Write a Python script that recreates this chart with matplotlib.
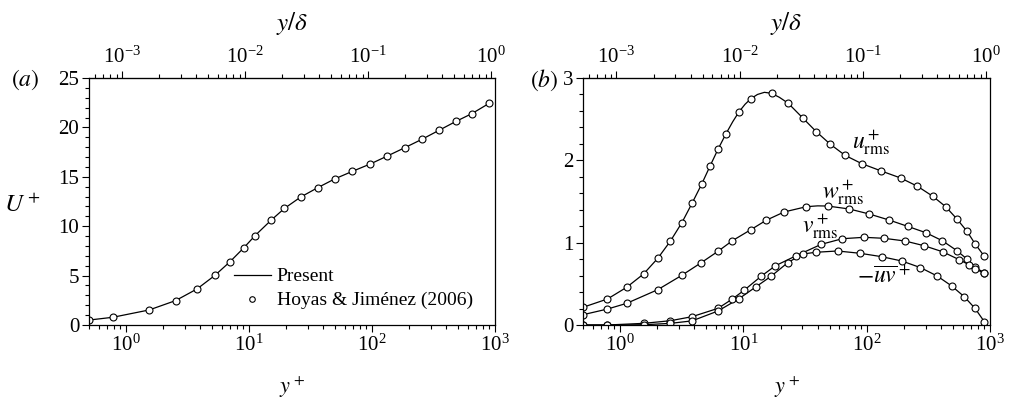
import matplotlib
matplotlib.use('Agg')
import matplotlib.pyplot as plt
from matplotlib.ticker import MultipleLocator

plt.rcParams['font.family'] = ['Liberation Serif', 'DejaVu Serif']
plt.rcParams['mathtext.fontset'] = 'stix'

RE_TAU = 934.0

# (a) mean velocity profile
hj_yp_U = [0.5, 0.78, 1.54, 2.53, 3.78, 5.29, 7.0, 9.05, 11.2, 15.1, 19.4, 26.3,
           36.2, 50, 69.2, 96.9, 133, 185, 255, 350, 480, 650, 900]
hj_U = [0.5, 0.78, 1.52, 2.47, 3.65, 5.03, 6.4, 7.8, 9.05, 10.6, 11.8, 12.95,
        13.9, 14.8, 15.55, 16.3, 17.1, 17.95, 18.8, 19.7, 20.6, 21.4, 22.45]
present_yp_U = [0.5, 0.78, 1.54, 2.53, 3.78, 5.29, 7.0, 9.05, 11.2, 15.1, 19.4, 26.3,
                36.2, 50, 69.2, 96.9, 133, 185, 255, 350, 480, 650, 900]
present_U = [0.5, 0.78, 1.52, 2.47, 3.65, 5.03, 6.4, 7.8, 9.05, 10.6, 11.8, 12.95,
             13.9, 14.8, 15.55, 16.3, 17.1, 17.95, 18.8, 19.7, 20.6, 21.4, 22.45]

# (b) rms fluctuations and Reynolds shear stress, reference DNS
hj_yp_u = [0.5, 0.79, 1.13, 1.55, 2.02, 2.56, 3.17, 3.83, 4.58, 5.36, 6.22, 7.18,
           9.22, 11.5, 16.9, 23.1, 30.5, 39, 50.7, 66.7, 91.1, 131, 188, 258,
           344, 437, 539, 651, 755, 900]
hj_u = [0.215, 0.316, 0.458, 0.62, 0.81, 1.02, 1.243, 1.478, 1.709, 1.93, 2.134, 2.316,
        2.59, 2.749, 2.814, 2.693, 2.51, 2.348, 2.195, 2.061, 1.96, 1.871, 1.786, 1.685,
        1.563, 1.437, 1.288, 1.138, 0.988, 0.834]
hj_yp_w = [0.5, 0.79, 1.13, 2.02, 3.17, 4.55, 6.22, 8.14, 11.5, 15.3, 21.4, 32.4,
           48.2, 72.3, 105, 152, 215, 302, 410, 539, 651, 755, 900]
hj_w = [0.125, 0.194, 0.263, 0.429, 0.604, 0.757, 0.895, 1.024, 1.158, 1.272, 1.373, 1.437,
        1.445, 1.409, 1.348, 1.275, 1.198, 1.121, 1.024, 0.903, 0.80, 0.70, 0.635]
hj_yp_v = [0.5, 0.79, 1.55, 2.56, 3.83, 6.22, 8.14, 10.2, 14.0, 18.2, 26.5, 42.8,
           63.4, 95, 138, 205, 292, 412, 563, 679, 755, 900]
hj_v = [0.0, 0.0, 0.02, 0.052, 0.101, 0.202, 0.316, 0.425, 0.595, 0.72, 0.838, 0.98,
        1.048, 1.065, 1.053, 1.02, 0.963, 0.89, 0.793, 0.73, 0.676, 0.635]
hj_yp_uv = [0.5, 0.79, 1.55, 2.56, 3.83, 6.22, 9.22, 12.7, 16.7, 22.9, 30.2, 38.5,
            58, 88.3, 132, 193, 273, 373, 489, 618, 755, 900]
hj_uv = [0.0, 0.0, 0.003, 0.02, 0.05, 0.17, 0.32, 0.466, 0.59, 0.757, 0.862, 0.883,
         0.899, 0.871, 0.83, 0.777, 0.697, 0.595, 0.474, 0.344, 0.203, 0.04]

# present simulation
pr_yp_u = [0.5, 0.79, 1.13, 1.55, 2.02, 2.56, 3.17, 3.83, 4.58, 5.36, 6.22, 7.18, 8.2,
           9.22, 10.3, 11.5, 13.0, 14.8, 16.9, 19.6, 23.1, 30.5, 39, 50.7, 66.7, 91.1,
           131, 188, 258, 344, 437, 539, 651, 755, 900]
pr_u = [0.215, 0.316, 0.458, 0.62, 0.81, 1.02, 1.243, 1.478, 1.709, 1.93, 2.134, 2.316, 2.47,
        2.59, 2.68, 2.749, 2.80, 2.826, 2.814, 2.765, 2.693, 2.51, 2.348, 2.195, 2.061, 1.96,
        1.871, 1.786, 1.685, 1.563, 1.437, 1.288, 1.138, 0.988, 0.834]
pr_yp_w = [0.5, 0.79, 1.13, 2.02, 3.17, 4.55, 6.22, 8.14, 11.5, 15.3, 21.4, 32.4, 40,
           48.2, 72.3, 105, 152, 215, 302, 410, 539, 651, 755, 900]
pr_w = [0.125, 0.194, 0.263, 0.429, 0.604, 0.757, 0.895, 1.024, 1.158, 1.272, 1.373, 1.437, 1.447,
        1.445, 1.409, 1.348, 1.275, 1.198, 1.121, 1.024, 0.903, 0.80, 0.70, 0.635]
pr_yp_v = [0.5, 0.79, 1.55, 2.56, 3.83, 6.22, 8.14, 10.2, 14.0, 18.2, 26.5, 42.8,
           63.4, 95, 138, 205, 292, 412, 563, 679, 755, 900]
pr_v = [0.0, 0.0, 0.02, 0.052, 0.101, 0.202, 0.316, 0.425, 0.595, 0.72, 0.838, 0.98,
        1.048, 1.065, 1.053, 1.02, 0.963, 0.89, 0.793, 0.73, 0.676, 0.635]
pr_yp_uv = [0.5, 0.79, 1.55, 2.56, 3.83, 6.22, 9.22, 12.7, 16.7, 22.9, 30.2, 38.5,
            58, 88.3, 132, 193, 273, 373, 489, 618, 755, 900]
pr_uv = [0.0, 0.0, 0.003, 0.02, 0.05, 0.17, 0.32, 0.466, 0.59, 0.757, 0.862, 0.883,
         0.899, 0.871, 0.83, 0.777, 0.697, 0.595, 0.474, 0.344, 0.203, 0.04]

top_ticks = [1e-3, 1e-2, 1e-1, 1e0]

W, H = 1011, 399
fig = plt.figure(figsize=(W / 100, H / 100), dpi=100)
ax1 = fig.add_axes([89 / W, 74 / H, 406 / W, 247 / H])
ax2 = fig.add_axes([583 / W, 74 / H, 407 / W, 247 / H])

line_kw = dict(color='black', lw=0.9)
mark_kw = dict(ls='none', marker='o', ms=5, mfc='white', mec='black', mew=0.8)


def style(ax):
    ax.set_xscale('log')
    ax.set_xlim(0.5, 1000)
    ax.tick_params(which='both', direction='out', top=False, right=False,
                   labelsize=15, width=0.8)
    ax.tick_params(which='major', length=5, pad=2)
    ax.tick_params(which='minor', length=3)
    for s in ax.spines.values():
        s.set_linewidth(0.9)
    ax.set_xlabel(r'$y^+$', fontsize=16)
    ax.xaxis.set_label_coords(0.5, -0.2)
    sec = ax.secondary_xaxis('top', functions=(lambda x: x / RE_TAU, lambda x: x * RE_TAU))
    sec.set_xticks(top_ticks)
    sec.tick_params(which='both', direction='out', labelsize=15, width=0.8)
    sec.tick_params(which='major', length=5, pad=2)
    sec.tick_params(which='minor', length=3)
    sec.set_xlabel(r'$y/\delta$', fontsize=18, labelpad=12)
    return sec


style(ax1)
ax1.plot(present_yp_U, present_U, label='Present', **line_kw)
ax1.plot(hj_yp_U, hj_U, label='Hoyas & Jiménez (2006)', **mark_kw)
ax1.set_ylim(0, 25)
ax1.yaxis.set_major_locator(MultipleLocator(5))
ax1.yaxis.set_minor_locator(MultipleLocator(1))
ax1.set_ylabel(r'$U^+$', fontsize=18, rotation=0, ha='center', va='center')
ax1.yaxis.set_label_coords(-0.165, 0.486)
ax1.legend(loc='upper left', bbox_to_anchor=(0.357, 0.232), frameon=False,
           fontsize=14, borderpad=0, borderaxespad=0, handlelength=1.9,
           handletextpad=0.3, labelspacing=0.33, markerscale=0.8)

style(ax2)
for yp, val in [(pr_yp_u, pr_u), (pr_yp_w, pr_w), (pr_yp_v, pr_v), (pr_yp_uv, pr_uv)]:
    ax2.plot(yp, val, **line_kw)
for yp, val in [(hj_yp_u, hj_u), (hj_yp_w, hj_w), (hj_yp_v, hj_v), (hj_yp_uv, hj_uv)]:
    ax2.plot(yp, val, **mark_kw)
ax2.set_ylim(0, 3)
ax2.yaxis.set_major_locator(MultipleLocator(1))
ax2.yaxis.set_minor_locator(MultipleLocator(0.2))

ax2.text(109, 2.22, r'$u^+_{\rm rms}$', fontsize=17, ha='center', va='center')
ax2.text(64, 1.615, r'$w^+_{\rm rms}$', fontsize=17, ha='center', va='center')
ax2.text(42, 1.20, r'$v^+_{\rm rms}$', fontsize=17, ha='center', va='center')
ax2.text(137, 0.577, r'$-\overline{uv}^+$', fontsize=17, ha='center', va='center')

fig.text(25 / W, 1 - 80 / H, r'$(a)$', fontsize=17, ha='center', va='center')
fig.text(544 / W, 1 - 80 / H, r'$(b)$', fontsize=17, ha='center', va='center')

fig.savefig('out.png', dpi=100)
